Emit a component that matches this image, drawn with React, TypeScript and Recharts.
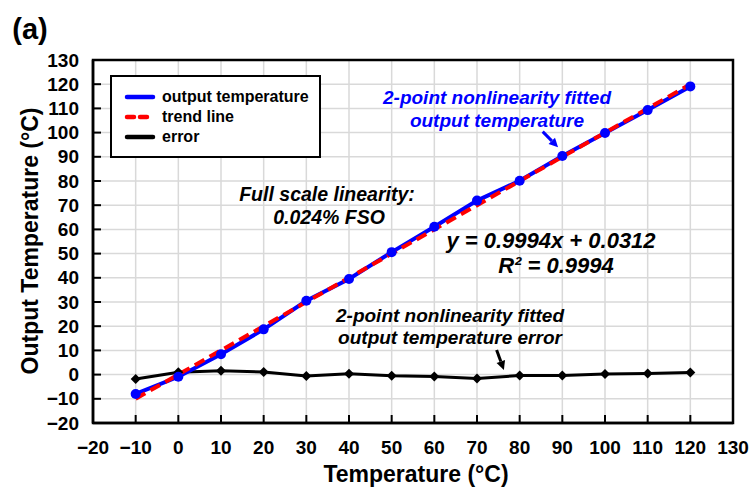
import { LineChart, Line, XAxis, YAxis, CartesianGrid, ReferenceArea, ReferenceLine, Legend } from 'recharts';

const temps = [-10, 0, 10, 20, 30, 40, 50, 60, 70, 80, 90, 100, 110, 120];
const outputTemp = [-8.0, -0.9, 8.4, 18.7, 30.5, 39.5, 50.6, 61.1, 71.9, 80.1, 90.3, 99.8, 109.3, 119.1];
const errorTemp = [-1.8, 1.0, 1.6, 1.1, -0.6, 0.3, -0.5, -0.8, -1.6, -0.4, -0.4, 0.2, 0.5, 0.9];
const trendTemps = [-10, 120];
const trendValues = [-9.96, 119.96];
const axisTicks = [-20, -10, 0, 10, 20, 30, 40, 50, 60, 70, 80, 90, 100, 110, 120, 130];

// arrow annotations (start -> tip), in data units
const blueArrow = [{ x: 85.4, y: 100.4 }, { x: 89.0, y: 93.9 }];
const blackArrow = [{ x: 74.6, y: 10.2 }, { x: 76.3, y: 1.9 }];

const FONT = '"Liberation Sans", Arial, sans-serif';
const BLUE = '#0000ff';
const RED = '#ff0000';

const outputData = temps.map((t, i) => ({ t, v: outputTemp[i] }));
const errorData = temps.map((t, i) => ({ t, v: errorTemp[i] }));
const trendData = trendTemps.map((t, i) => ({ t, v: trendValues[i] }));

const fmt = (v: number) => (v < 0 ? `\u2212${Math.abs(v)}` : `${v}`);

function YTick(props: any) {
  const { x, y, payload } = props;
  return (
    <g>
      <line x1={x + 14} x2={x + 22} y1={y} y2={y} stroke="#000" strokeWidth={2} />
      <text x={x} y={y} dy="0.35em" textAnchor="end" fontSize={19} fontWeight="bold" fontFamily={FONT} fill="#000">
        {fmt(payload.value)}
      </text>
    </g>
  );
}

function XTick(props: any) {
  const { x, y, payload } = props;
  return (
    <g>
      <line x1={x} x2={x} y1={y - 24} y2={y - 32} stroke="#000" strokeWidth={2} />
      <text x={x} y={y} dy="0.35em" textAnchor="middle" fontSize={19} fontWeight="bold" fontFamily={FONT} fill="#000">
        {fmt(payload.value)}
      </text>
    </g>
  );
}

function BlackDiamond(props: any) {
  const { cx, cy } = props;
  if (cx == null || cy == null) return null;
  const r = 5;
  return <polygon points={`${cx},${cy - r} ${cx + r},${cy} ${cx},${cy + r} ${cx - r},${cy}`} fill="#000" />;
}

function makeArrow(color: string) {
  return (props: any) => {
    const { x1, y1, x2, y2 } = props;
    const dx = x2 - x1;
    const dy = y2 - y1;
    const len = Math.sqrt(dx * dx + dy * dy) || 1;
    const ux = dx / len;
    const uy = dy / len;
    const head = 9;
    const half = 4.5;
    const bx = x2 - ux * head;
    const by = y2 - uy * head;
    return (
      <g>
        <line x1={x1} y1={y1} x2={bx} y2={by} stroke={color} strokeWidth={3} />
        <polygon
          points={`${x2},${y2} ${bx - uy * half},${by + ux * half} ${bx + uy * half},${by - ux * half}`}
          fill={color}
        />
      </g>
    );
  };
}

function LegendBox() {
  const rows = [
    { label: 'output temperature', color: BLUE, dash: undefined },
    { label: 'trend line', color: RED, dash: '7 6' },
    { label: 'error', color: '#000', dash: undefined },
  ];
  return (
    <div
      style={{
        width: 211,
        height: 83,
        boxSizing: 'border-box',
        border: '2px solid #000',
        background: '#fff',
        fontFamily: FONT,
        fontWeight: 'bold',
        fontSize: 16,
        paddingTop: 10,
        paddingLeft: 12,
      }}
    >
      {rows.map((r) => (
        <div key={r.label} style={{ display: 'flex', alignItems: 'center', height: 20 }}>
          <svg width={32} height={10} style={{ marginRight: 6 }}>
            <line x1={3} x2={29} y1={5} y2={5} stroke={r.color} strokeWidth={4.5} strokeLinecap="round" strokeDasharray={r.dash} />
          </svg>
          <span>{r.label}</span>
        </div>
      ))}
    </div>
  );
}

const noteStyle = (cx: number, cy: number, color: string, size: number): React.CSSProperties => ({
  position: 'absolute',
  left: cx,
  top: cy,
  transform: 'translate(-50%, -50%)',
  whiteSpace: 'nowrap',
  fontFamily: FONT,
  fontWeight: 'bold',
  fontStyle: 'italic',
  fontSize: size,
  lineHeight: 1,
  color,
});

export default function App() {
  return (
    <div
      style={{
        position: 'absolute',
        left: 0,
        top: 0,
        width: 751,
        height: 491,
        overflow: 'hidden',
        fontFamily: FONT,
        background: '#fff',
      }}
    >
      <LineChart width={751} height={491} margin={{ top: 60, right: 18, bottom: 38, left: 48 }}>
        <CartesianGrid stroke="#d9d9d9" strokeWidth={1.5} />
        <XAxis
          type="number"
          dataKey="t"
          domain={[-20, 130]}
          ticks={axisTicks}
          allowDataOverflow
          height={30}
          tickSize={0}
          tickMargin={24}
          tickLine={false}
          axisLine={{ stroke: '#000', strokeWidth: 2.5 }}
          tick={<XTick />}
          interval={0}
        />
        <YAxis
          type="number"
          domain={[-20, 130]}
          ticks={axisTicks}
          allowDataOverflow
          width={45}
          tickSize={0}
          tickMargin={14}
          tickLine={false}
          axisLine={{ stroke: '#000', strokeWidth: 2.5 }}
          tick={<YTick />}
          interval={0}
        />
        <ReferenceArea x1={-20} x2={130} y1={-20} y2={130} fill="none" stroke="#000" strokeWidth={2.5} fillOpacity={0} />
        <Line
          data={errorData}
          dataKey="v"
          stroke="#000"
          strokeWidth={3}
          dot={<BlackDiamond />}
          activeDot={false}
          isAnimationActive={false}
        />
        <Line
          data={outputData}
          dataKey="v"
          stroke={BLUE}
          strokeWidth={4}
          dot={{ r: 5, fill: BLUE, stroke: BLUE, strokeWidth: 0 }}
          activeDot={false}
          isAnimationActive={false}
        />
        <Line
          data={trendData}
          dataKey="v"
          stroke={RED}
          strokeWidth={4}
          strokeDasharray="11 6"
          dot={false}
          activeDot={false}
          isAnimationActive={false}
        />
        <ReferenceLine segment={blueArrow} shape={makeArrow(BLUE)} />
        <ReferenceLine segment={blackArrow} shape={makeArrow('#000')} />
        <Legend
          layout="vertical"
          align="center"
          verticalAlign="middle"
          content={<LegendBox />}
          wrapperStyle={{ position: 'absolute', left: 110, top: 75, width: 211, height: 83 }}
        />
      </LineChart>

      <div style={{ position: 'absolute', left: 30, top: 29, transform: 'translate(-50%, -50%)', fontSize: 29, fontWeight: 'bold', lineHeight: 1 }}>
        (a)
      </div>
      <div
        style={{
          position: 'absolute',
          left: 30,
          top: 241,
          transform: 'translate(-50%, -50%) rotate(-90deg)',
          fontSize: 23,
          fontWeight: 'bold',
          whiteSpace: 'nowrap',
          lineHeight: 1,
        }}
      >
        Output Temperature (°C)
      </div>
      <div
        style={{
          position: 'absolute',
          left: 416,
          top: 474,
          transform: 'translate(-50%, -50%)',
          fontSize: 23,
          fontWeight: 'bold',
          whiteSpace: 'nowrap',
          lineHeight: 1,
        }}
      >
        Temperature (°C)
      </div>

      <div style={noteStyle(497, 97, BLUE, 19)}>2-point nonlinearity fitted</div>
      <div style={noteStyle(497, 120, BLUE, 19)}>output temperature</div>
      <div style={noteStyle(327, 195, '#000', 19.5)}>Full scale linearity:</div>
      <div style={noteStyle(329, 218, '#000', 19.5)}>0.024% FSO</div>
      <div style={noteStyle(551, 241, '#000', 22)}>y = 0.9994x + 0.0312</div>
      <div style={noteStyle(556, 266, '#000', 22)}>R² = 0.9994</div>
      <div style={noteStyle(450, 315, '#000', 19)}>2-point nonlinearity fitted</div>
      <div style={noteStyle(450, 337, '#000', 19)}>output temperature error</div>
    </div>
  );
}
